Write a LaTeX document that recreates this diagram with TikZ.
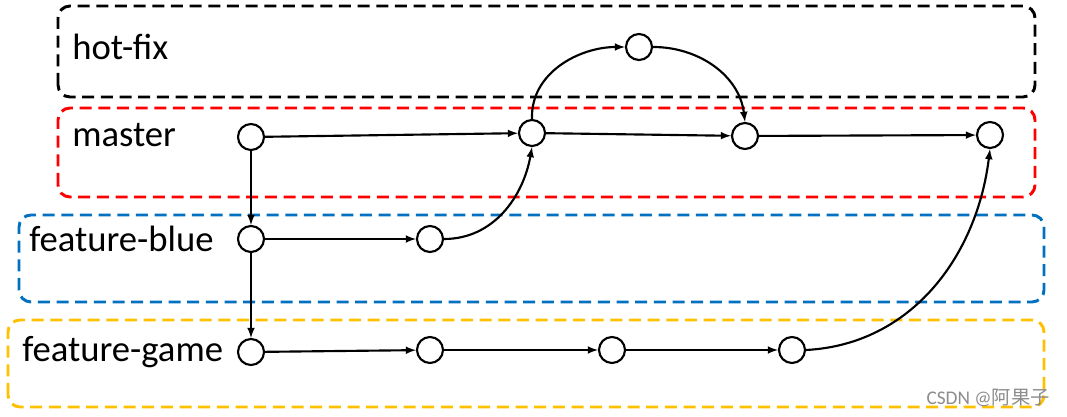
\documentclass[tikz,border=0pt]{standalone}
\usepackage{fontspec}
\setmainfont{Carlito}
\newfontfamily\cjkfont{Noto Sans CJK SC}
\definecolor{hotcol}{RGB}{0,0,0}
\definecolor{mastercol}{RGB}{255,0,0}
\definecolor{bluecol}{RGB}{0,112,192}
\definecolor{gamecol}{RGB}{255,192,0}
\tikzset{
  commit/.style={circle, draw, line width=1.6pt, fill=white, minimum size=19.5pt, inner sep=0pt},
  branch/.style={line width=2.2pt, dash pattern=on 9pt off 5pt, rounded corners=9pt},
  lbl/.style={anchor=base west, inner sep=0pt, font=\fontsize{27.5}{30}\selectfont},
  flow/.style={-latex, line width=1.6pt}
}
\begin{document}
\begin{tikzpicture}[x=0.75pt, y=0.75pt]
		\useasboundingbox (0,0) rectangle (1067,417);
		% branch boxes
		\draw [branch, hotcol] (58,320) rectangle (1035,411);
		\draw [branch, mastercol] (58,220) rectangle (1035,309);
		\draw [branch, bluecol] (19,115) rectangle (1044,202);
		\draw [branch, gamecol] (8,10) rectangle (1044,97);
		% branch names
		\node [lbl] (lblhot) at (72,357) {hot-fix};
		\node [lbl] (lblmaster) at (72,270) {master};
		\node [lbl] (lblblue) at (29,165) {feature-blue};
		\node [lbl] (lblgame) at (22,55) {feature-game};
		% commits
		\node [commit] (m1) at (251,280) {};
		\node [commit] (m2) at (532,284) {};
		\node [commit] (m3) at (745,281) {};
		\node [commit] (m4) at (990,282) {};
		\node [commit] (h1) at (639,370) {};
		\node [commit] (b1) at (251,178) {};
		\node [commit] (b2) at (430,178) {};
		\node [commit] (g1) at (251,65) {};
		\node [commit] (g2) at (430,67) {};
		\node [commit] (g3) at (612,67) {};
		\node [commit] (g4) at (792,67) {};
		% history
		\draw [flow] (m1)--(m2);
		\draw [flow] (m2)--(m3);
		\draw [flow] (m3)--(m4);
		\draw [flow] (m1)--(b1);
		\draw [flow] (b1)--(g1);
		\draw [flow] (b1)--(b2);
		\draw [flow] (g1)--(g2);
		\draw [flow] (g2)--(g3);
		\draw [flow] (g3)--(g4);
		\draw [flow] (b2.east) to[out=0, in=-100] (m2.south);
		\draw [flow] (m2.north) to[out=92, in=180] (h1.west);
		\draw [flow] (h1.east) to[out=0, in=97] (m3.north);
		\draw [flow] (g4.east) to[out=3, in=-97] (m4.south);
		% watermark
		\node [anchor=base east, inner sep=0pt, text=black!45, font=\fontsize{14.5}{16}\selectfont] (mark) at (1050,12) {CSDN @{\cjkfont 阿果子}};
	\end{tikzpicture}
\end{document}
